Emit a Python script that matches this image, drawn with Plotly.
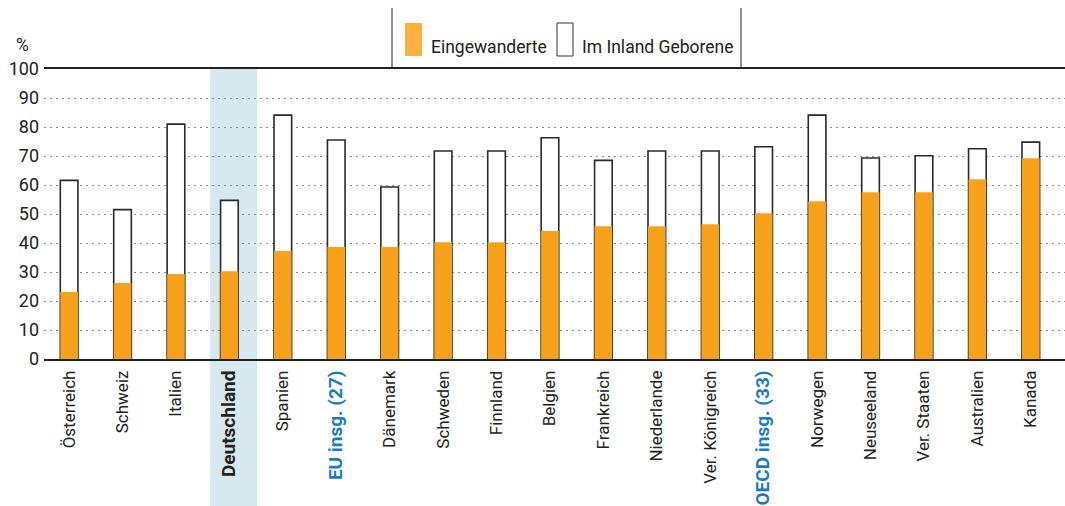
import plotly.graph_objects as go

laender = ["Österreich", "Schweiz", "Italien", "Deutschland", "Spanien", "EU insg. (27)",
           "Dänemark", "Schweden", "Finnland", "Belgien", "Frankreich", "Niederlande",
           "Ver. Königreich", "OECD insg. (33)", "Norwegen", "Neuseeland", "Ver. Staaten",
           "Australien", "Kanada"]
eingewanderte = [23.1, 26.2, 29.3, 30.3, 37.2, 38.6, 38.6, 40.3, 40.3, 44.1, 45.8, 45.8,
                 46.5, 50.3, 54.4, 57.5, 57.5, 62.0, 69.2]
inland_geborene = [61.6, 51.5, 81.0, 54.7, 84.1, 75.5, 59.3, 71.7, 71.7, 76.3, 68.5, 71.7,
                   71.7, 73.2, 84.1, 69.3, 70.1, 72.5, 74.8]
y_ticks = [0, 10, 20, 30, 40, 50, 60, 70, 80, 90, 100]

ORANGE = "#f8a21c"
BLAU = "#1a7cc1"
BAND = "#d7e8ee"
W, H = 1065, 506
L, R, T, B = 44, 0, 69, 147
x_range = [-0.47, 18.64]


def px_x(p):
    return (p - L) / (W - L - R)


def px_y(p):
    return (H - B - p) / (H - T - B)


def tick_label(name):
    if name == "Deutschland":
        return "<b><span style='font-size:19px'>%s</span></b>" % name
    if "insg." in name:
        return "<b><span style='color:%s;font-size:19px'>%s</span></b>" % (BLAU, name)
    return name


fig = go.Figure()
fig.add_trace(go.Bar(x=list(range(len(laender))), y=inland_geborene, name="Im Inland Geborene",
                     marker=dict(color="white", line=dict(color="#2a2a2a", width=1.6)),
                     width=0.33))
fig.add_trace(go.Bar(x=list(range(len(laender))), y=eingewanderte, name="Eingewanderte",
                     marker=dict(color=ORANGE, line=dict(width=0)), width=0.33))

# Hervorhebung Deutschland
i_de = laender.index("Deutschland")
span = x_range[1] - x_range[0]
fig.add_shape(type="rect", xref="paper", yref="paper",
              x0=(i_de - 0.36 - x_range[0]) / span, x1=(i_de + 0.52 - x_range[0]) / span,
              y0=-0.6, y1=1, fillcolor=BAND, line_width=0, layer="below")

# Legende als Kasten oben
for xp in (392, 741):
    fig.add_shape(type="line", xref="paper", yref="paper", x0=px_x(xp), x1=px_x(xp),
                  y0=1, y1=px_y(8), line=dict(color="#222222", width=1))
fig.add_shape(type="rect", xref="paper", yref="paper", x0=px_x(405), x1=px_x(422),
              y0=px_y(56), y1=px_y(23), fillcolor="#fbb040", line_width=0)
fig.add_shape(type="rect", xref="paper", yref="paper", x0=px_x(557), x1=px_x(573),
              y0=px_y(56), y1=px_y(23), fillcolor="white", line=dict(color="#333333", width=1))
fig.add_annotation(text="Eingewanderte", xref="paper", yref="paper", x=px_x(429), y=px_y(47),
                   xanchor="left", yanchor="middle", showarrow=False,
                   font=dict(size=17.5, color="#222222"))
fig.add_annotation(text="Im Inland Geborene", xref="paper", yref="paper", x=px_x(580), y=px_y(47),
                   xanchor="left", yanchor="middle", showarrow=False,
                   font=dict(size=17.5, color="#222222"))
fig.add_annotation(text="%", xref="paper", yref="paper", x=px_x(22), y=px_y(45),
                   xanchor="center", yanchor="middle", showarrow=False,
                   font=dict(size=17.5, color="#222222"))

fig.update_layout(
    width=W, height=H,
    margin=dict(l=L, r=R, t=T, b=B),
    barmode="overlay",
    showlegend=False,
    plot_bgcolor="rgba(0,0,0,0)",
    paper_bgcolor="white",
    font=dict(family="Roboto, Arial", size=17, color="#222222"),
    xaxis=dict(range=x_range, tickmode="array", tickvals=list(range(len(laender))),
               ticktext=[tick_label(n) for n in laender], tickangle=-90,
               showgrid=False, showline=True, mirror=True, linecolor="#222222", linewidth=1.5,
               ticks="", ticklabelstandoff=3),
    yaxis=dict(range=[0, 100], tickvals=y_ticks, showgrid=True, gridcolor="#8c8c8c",
               griddash="2px,4px", gridwidth=1, zeroline=False, showline=False, ticks="",
               ticklabelstandoff=4, tickfont=dict(size=18)),
)

fig.write_html("out.html", config={"displayModeBar": False},
               post_script="document.body.style.margin='0px';")
